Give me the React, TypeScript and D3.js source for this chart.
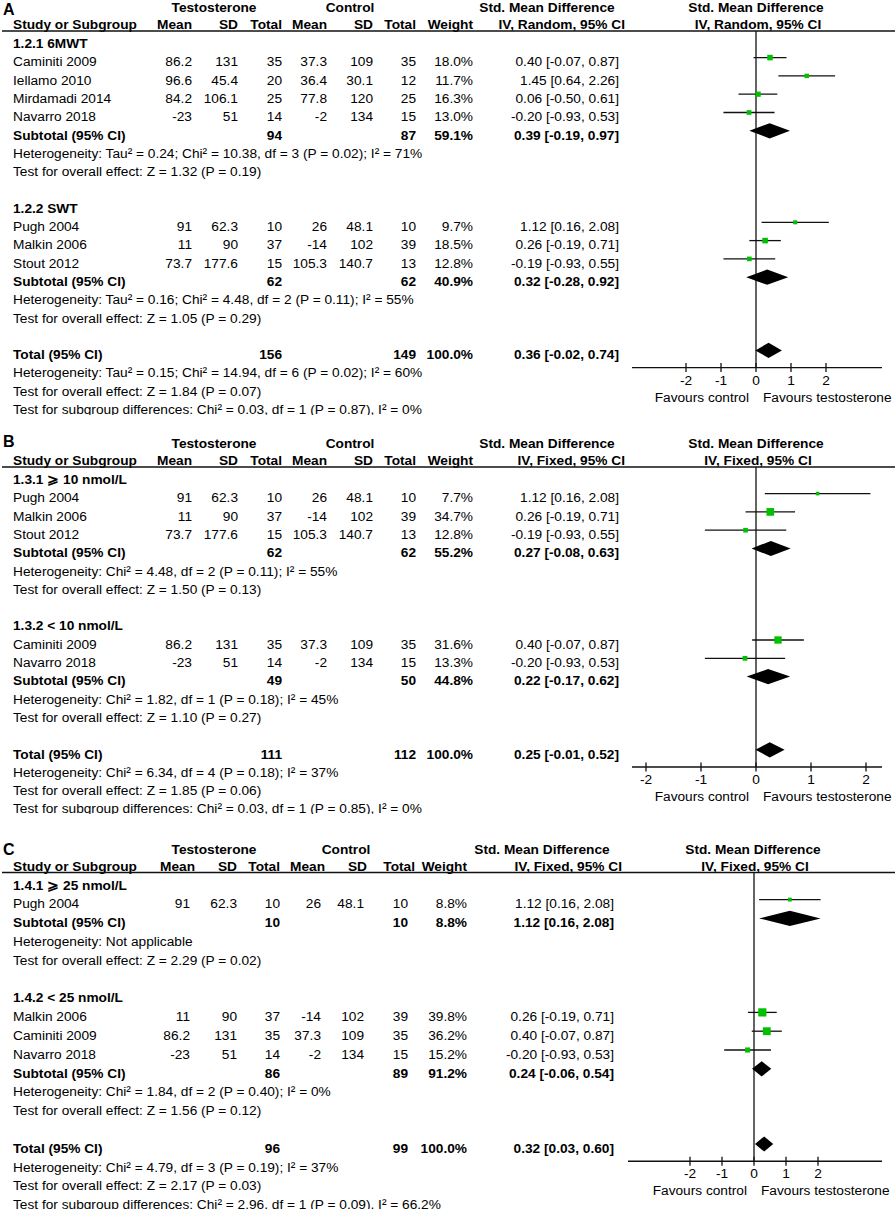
import React from "react";
import * as d3 from "d3";

type Study = [string, string, string, string, string, string, string, number, number, number, number];
type Summary = [string, number, number, number, number, number, number];

// ---------- Panel A data ----------
const groupA1Title = "1.2.1 6MWT";
const groupA1Studies: Study[] = [
  ["Caminiti 2009", "86.2", "131", "35", "37.3", "109", "35", 18.0, 0.40, -0.07, 0.87],
  ["Iellamo 2010", "96.6", "45.4", "20", "36.4", "30.1", "12", 11.7, 1.45, 0.64, 2.26],
  ["Mirdamadi 2014", "84.2", "106.1", "25", "77.8", "120", "25", 16.3, 0.06, -0.50, 0.61],
  ["Navarro 2018", "-23", "51", "14", "-2", "134", "15", 13.0, -0.20, -0.93, 0.53],
];
const groupA1Subtotal: Summary = ["Subtotal (95% CI)", 94, 87, 59.1, 0.39, -0.19, 0.97];
const groupA1Notes = [
  "Heterogeneity: Tau² = 0.24; Chi² = 10.38, df = 3 (P = 0.02); I² = 71%",
  "Test for overall effect: Z = 1.32 (P = 0.19)",
];
const groupA2Title = "1.2.2 SWT";
const groupA2Studies: Study[] = [
  ["Pugh 2004", "91", "62.3", "10", "26", "48.1", "10", 9.7, 1.12, 0.16, 2.08],
  ["Malkin 2006", "11", "90", "37", "-14", "102", "39", 18.5, 0.26, -0.19, 0.71],
  ["Stout 2012", "73.7", "177.6", "15", "105.3", "140.7", "13", 12.8, -0.19, -0.93, 0.55],
];
const groupA2Subtotal: Summary = ["Subtotal (95% CI)", 62, 62, 40.9, 0.32, -0.28, 0.92];
const groupA2Notes = [
  "Heterogeneity: Tau² = 0.16; Chi² = 4.48, df = 2 (P = 0.11); I² = 55%",
  "Test for overall effect: Z = 1.05 (P = 0.29)",
];
const totalA: Summary = ["Total (95% CI)", 156, 149, 100.0, 0.36, -0.02, 0.74];
const totalANotes = [
  "Heterogeneity: Tau² = 0.15; Chi² = 14.94, df = 6 (P = 0.02); I² = 60%",
  "Test for overall effect: Z = 1.84 (P = 0.07)",
  "Test for subgroup differences: Chi² = 0.03, df = 1 (P = 0.87), I² = 0%",
];

// ---------- Panel B data ----------
const groupB1Title = "1.3.1 ⩾ 10 nmol/L";
const groupB1Studies: Study[] = [
  ["Pugh 2004", "91", "62.3", "10", "26", "48.1", "10", 7.7, 1.12, 0.16, 2.08],
  ["Malkin 2006", "11", "90", "37", "-14", "102", "39", 34.7, 0.26, -0.19, 0.71],
  ["Stout 2012", "73.7", "177.6", "15", "105.3", "140.7", "13", 12.8, -0.19, -0.93, 0.55],
];
const groupB1Subtotal: Summary = ["Subtotal (95% CI)", 62, 62, 55.2, 0.27, -0.08, 0.63];
const groupB1Notes = [
  "Heterogeneity: Chi² = 4.48, df = 2 (P = 0.11); I² = 55%",
  "Test for overall effect: Z = 1.50 (P = 0.13)",
];
const groupB2Title = "1.3.2 < 10 nmol/L";
const groupB2Studies: Study[] = [
  ["Caminiti 2009", "86.2", "131", "35", "37.3", "109", "35", 31.6, 0.40, -0.07, 0.87],
  ["Navarro 2018", "-23", "51", "14", "-2", "134", "15", 13.3, -0.20, -0.93, 0.53],
];
const groupB2Subtotal: Summary = ["Subtotal (95% CI)", 49, 50, 44.8, 0.22, -0.17, 0.62];
const groupB2Notes = [
  "Heterogeneity: Chi² = 1.82, df = 1 (P = 0.18); I² = 45%",
  "Test for overall effect: Z = 1.10 (P = 0.27)",
];
const totalB: Summary = ["Total (95% CI)", 111, 112, 100.0, 0.25, -0.01, 0.52];
const totalBNotes = [
  "Heterogeneity: Chi² = 6.34, df = 4 (P = 0.18); I² = 37%",
  "Test for overall effect: Z = 1.85 (P = 0.06)",
  "Test for subgroup differences: Chi² = 0.03, df = 1 (P = 0.85), I² = 0%",
];

// ---------- Panel C data ----------
const groupC1Title = "1.4.1 ⩾ 25 nmol/L";
const groupC1Studies: Study[] = [
  ["Pugh 2004", "91", "62.3", "10", "26", "48.1", "10", 8.8, 1.12, 0.16, 2.08],
];
const groupC1Subtotal: Summary = ["Subtotal (95% CI)", 10, 10, 8.8, 1.12, 0.16, 2.08];
const groupC1Notes = [
  "Heterogeneity: Not applicable",
  "Test for overall effect: Z = 2.29 (P = 0.02)",
];
const groupC2Title = "1.4.2 < 25 nmol/L";
const groupC2Studies: Study[] = [
  ["Malkin 2006", "11", "90", "37", "-14", "102", "39", 39.8, 0.26, -0.19, 0.71],
  ["Caminiti 2009", "86.2", "131", "35", "37.3", "109", "35", 36.2, 0.40, -0.07, 0.87],
  ["Navarro 2018", "-23", "51", "14", "-2", "134", "15", 15.2, -0.20, -0.93, 0.53],
];
const groupC2Subtotal: Summary = ["Subtotal (95% CI)", 86, 89, 91.2, 0.24, -0.06, 0.54];
const groupC2Notes = [
  "Heterogeneity: Chi² = 1.84, df = 2 (P = 0.40); I² = 0%",
  "Test for overall effect: Z = 1.56 (P = 0.12)",
];
const totalC: Summary = ["Total (95% CI)", 96, 99, 100.0, 0.32, 0.03, 0.60];
const totalCNotes = [
  "Heterogeneity: Chi² = 4.79, df = 3 (P = 0.19); I² = 37%",
  "Test for overall effect: Z = 2.17 (P = 0.03)",
  "Test for subgroup differences: Chi² = 2.96, df = 1 (P = 0.09), I² = 66.2%",
];

const columnHeaders = ["Mean", "SD", "Total", "Mean", "SD", "Total", "Weight"];
const axisTicks = [-2, -1, 0, 1, 2];

const FONT = "'Liberation Sans', Arial, Helvetica, sans-serif";
const FS = 13.7;
const GREEN = "#00c000";
const INK = "#111";

type Layout = {
  labelY: number;
  headerLine: number;
  rowH: number;
  zero: number;
  unit: number;
  axisL: number;
  axisR: number;
  clipBottom: number;
  valueX: number[];
  headerX: number[];
  ciX: number;
  smdCx: number;
  ciHeadRight: number;
  forestCx: number;
  testoCx: number;
  controlCx: number;
};

const layoutA: Layout = {
  labelY: 15, headerLine: 31, rowH: 18.3, zero: 756, unit: 35, axisL: 632, axisR: 882, clipBottom: 415,
  valueX: [192, 238, 282, 327, 373, 416, 473], headerX: [192, 238, 282, 327, 373, 416, 473],
  ciX: 619, smdCx: 547, ciHeadRight: 625, forestCx: 758, testoCx: 214, controlCx: 350,
};
const layoutB: Layout = {
  labelY: 447, headerLine: 467, rowH: 18.3, zero: 756, unit: 55, axisL: 632, axisR: 882, clipBottom: 814,
  valueX: [192, 238, 282, 327, 373, 416, 473], headerX: [192, 238, 282, 327, 373, 416, 473],
  ciX: 619, smdCx: 547, ciHeadRight: 625, forestCx: 758, testoCx: 214, controlCx: 350,
};
const layoutC: Layout = {
  labelY: 855, headerLine: 872.5, rowH: 18.8, zero: 754, unit: 32, axisL: 628, axisR: 882, clipBottom: 1209,
  valueX: [190, 237, 280, 321, 364, 408, 467], headerX: [195, 237, 280, 325, 367, 415, 467],
  ciX: 614, smdCx: 542, ciHeadRight: 622, forestCx: 755, testoCx: 214, controlCx: 346,
};

type Group = { title: string; studies: Study[]; subtotal: Summary; notes: string[] };
type PanelDef = { label: string; model: string; groups: Group[]; total: Summary; totalNotes: string[]; layout: Layout };

const panels: PanelDef[] = [
  {
    label: "A", model: "Random", layout: layoutA, total: totalA, totalNotes: totalANotes,
    groups: [
      { title: groupA1Title, studies: groupA1Studies, subtotal: groupA1Subtotal, notes: groupA1Notes },
      { title: groupA2Title, studies: groupA2Studies, subtotal: groupA2Subtotal, notes: groupA2Notes },
    ],
  },
  {
    label: "B", model: "Fixed", layout: layoutB, total: totalB, totalNotes: totalBNotes,
    groups: [
      { title: groupB1Title, studies: groupB1Studies, subtotal: groupB1Subtotal, notes: groupB1Notes },
      { title: groupB2Title, studies: groupB2Studies, subtotal: groupB2Subtotal, notes: groupB2Notes },
    ],
  },
  {
    label: "C", model: "Fixed", layout: layoutC, total: totalC, totalNotes: totalCNotes,
    groups: [
      { title: groupC1Title, studies: groupC1Studies, subtotal: groupC1Subtotal, notes: groupC1Notes },
      { title: groupC2Title, studies: groupC2Studies, subtotal: groupC2Subtotal, notes: groupC2Notes },
    ],
  },
];

const fmtCI = (e: number, lo: number, hi: number) => `${e.toFixed(2)} [${lo.toFixed(2)}, ${hi.toFixed(2)}]`;
const fmtW = (w: number) => `${w.toFixed(1)}%`;

type Row =
  | { kind: "group"; text: string }
  | { kind: "study"; s: Study }
  | { kind: "summary"; s: Summary }
  | { kind: "note"; text: string }
  | { kind: "blank" };

function Panel({ p, idx }: { p: PanelDef; idx: number }) {
  const L = p.layout;
  const x = d3.scaleLinear().domain([-2, 2]).range([L.zero - 2 * L.unit, L.zero + 2 * L.unit]);
  const firstRow = L.headerLine + 17;
  const y = d3.scaleLinear().domain([0, 1]).range([firstRow, firstRow + L.rowH]);
  const side = d3.scaleSqrt().domain([0, 100]).range([0, 13]);

  const rows: Row[] = [];
  p.groups.forEach((g) => {
    rows.push({ kind: "group", text: g.title });
    g.studies.forEach((s) => rows.push({ kind: "study", s }));
    rows.push({ kind: "summary", s: g.subtotal });
    g.notes.forEach((t) => rows.push({ kind: "note", text: t }));
    rows.push({ kind: "blank" });
  });
  const totalIndex = rows.length;
  rows.push({ kind: "summary", s: p.total });
  p.totalNotes.forEach((t) => rows.push({ kind: "note", text: t }));

  const axisY = y(totalIndex) + 8.5;
  const markOff = 8.7;
  const clipId = `clip-${idx}`;

  return (
    <g clipPath={`url(#${clipId})`}>
      <defs>
        <clipPath id={clipId}>
          <rect x={0} y={L.labelY - 20} width={896} height={L.clipBottom - (L.labelY - 20)} />
        </clipPath>
      </defs>
      <text x={3} y={L.labelY} fontSize={16} fontWeight="bold">{p.label}</text>
      <g fontWeight="bold">
        <text x={L.testoCx} y={L.headerLine - 19} textAnchor="middle">Testosterone</text>
        <text x={L.controlCx} y={L.headerLine - 19} textAnchor="middle">Control</text>
        <text x={L.smdCx} y={L.headerLine - 19} textAnchor="middle">Std. Mean Difference</text>
        <text x={L.forestCx - 2} y={L.headerLine - 19} textAnchor="middle">Std. Mean Difference</text>
        <text x={13} y={L.headerLine - 2}>Study or Subgroup</text>
        {columnHeaders.map((h, i) => (
          <text key={i} x={L.headerX[i]} y={L.headerLine - 2} textAnchor="end">{h}</text>
        ))}
        <text x={L.ciHeadRight} y={L.headerLine - 2} textAnchor="end">{`IV, ${p.model}, 95% CI`}</text>
        <text x={L.forestCx} y={L.headerLine - 2} textAnchor="middle">{`IV, ${p.model}, 95% CI`}</text>
      </g>
      <line x1={2} x2={895} y1={L.headerLine} y2={L.headerLine} stroke={INK} strokeWidth={1.4} />
      <line x1={x(0)} x2={x(0)} y1={L.headerLine} y2={axisY} stroke={INK} strokeWidth={1.3} />

      {rows.map((r, i) => {
        const by = y(i);
        const my = by - markOff;
        if (r.kind === "blank") return null;
        if (r.kind === "group")
          return <text key={i} x={13} y={by} fontWeight="bold">{r.text}</text>;
        if (r.kind === "note")
          return <text key={i} x={13} y={by}>{r.text}</text>;
        if (r.kind === "study") {
          const s = r.s;
          const vals = [s[1], s[2], s[3], s[4], s[5], s[6], fmtW(s[7])];
          const sz = Math.max(3.2, side(s[7]));
          return (
            <g key={i}>
              <text x={13} y={by}>{s[0]}</text>
              {vals.map((v, j) => (
                <text key={j} x={L.valueX[j]} y={by} textAnchor="end">{v}</text>
              ))}
              <text x={L.ciX} y={by} textAnchor="end">{fmtCI(s[8], s[9], s[10])}</text>
              <line x1={x(s[9])} x2={x(s[10])} y1={my} y2={my} stroke={INK} strokeWidth={1.3} />
              <rect x={x(s[8]) - sz / 2} y={my - sz / 2} width={sz} height={sz} fill={GREEN} />
            </g>
          );
        }
        const s = r.s;
        const h = 7.6;
        const pts: [number, number][] = [
          [x(s[5]), my],
          [x(s[4]), my - h],
          [x(s[6]), my],
          [x(s[4]), my + h],
        ];
        return (
          <g key={i} fontWeight="bold">
            <text x={13} y={by}>{s[0]}</text>
            <text x={L.valueX[2]} y={by} textAnchor="end">{s[1]}</text>
            <text x={L.valueX[5]} y={by} textAnchor="end">{s[2]}</text>
            <text x={L.valueX[6]} y={by} textAnchor="end">{fmtW(s[3])}</text>
            <text x={L.ciX} y={by} textAnchor="end">{fmtCI(s[4], s[5], s[6])}</text>
            <path d={(d3.line()(pts) || "") + "Z"} fill="#000" />
          </g>
        );
      })}

      <line x1={L.axisL} x2={L.axisR} y1={axisY} y2={axisY} stroke={INK} strokeWidth={1.4} />
      {axisTicks.map((t) => (
        <g key={t}>
          <line x1={x(t)} x2={x(t)} y1={axisY - 4.5} y2={axisY + 4.5} stroke={INK} strokeWidth={1.3} />
          <text x={x(t)} y={axisY + 17} textAnchor="middle">{String(t)}</text>
        </g>
      ))}
      <text x={x(0) - 7} y={axisY + 34} textAnchor="end">Favours control</text>
      <text x={x(0) + 7} y={axisY + 34}>Favours testosterone</text>
    </g>
  );
}

export default function App() {
  return (
    <svg
      width={896}
      height={1209}
      style={{ position: "absolute", left: 0, top: 0, background: "#fff" }}
      fontFamily={FONT}
      fontSize={FS}
      fill="#000"
    >
      <rect x={0} y={0} width={896} height={1209} fill="#fff" />
      {panels.map((p, i) => (
        <Panel key={i} p={p} idx={i} />
      ))}
    </svg>
  );
}
